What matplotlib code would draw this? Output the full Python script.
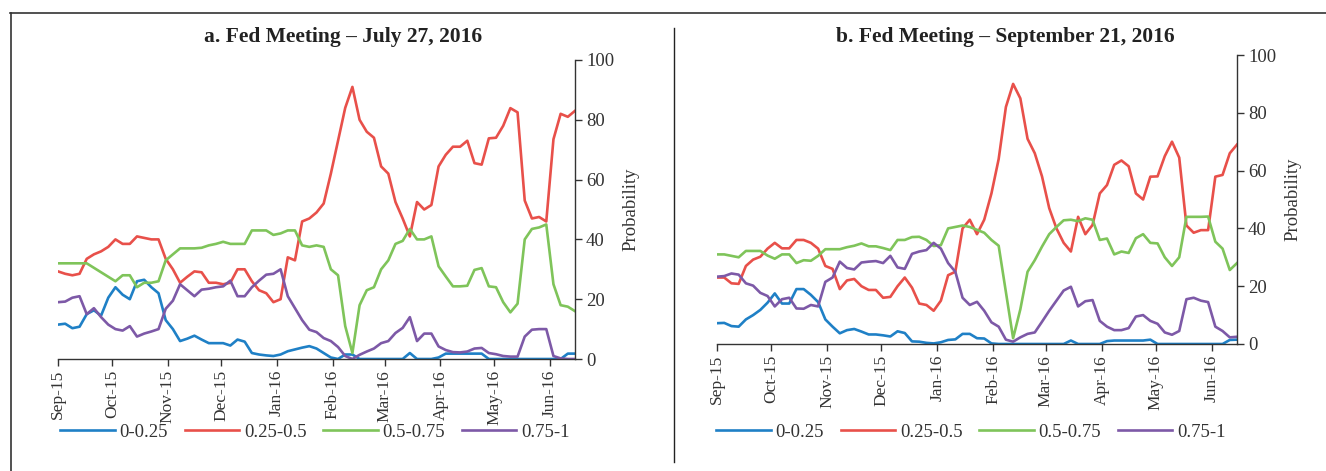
import matplotlib
matplotlib.use("Agg")
import matplotlib.pyplot as plt
from matplotlib.lines import Line2D
import pandas as pd

# ---------------- data ----------------
dates = pd.date_range("2015-09-01", periods=73, freq="4D")
month_ticks = pd.date_range("2015-09-01", "2016-06-01", freq="MS")
month_labels = ["Sep-15", "Oct-15", "Nov-15", "Dec-15", "Jan-16",
                "Feb-16", "Mar-16", "Apr-16", "May-16", "Jun-16"]
series_names = ["0-0.25", "0.25-0.5", "0.5-0.75", "0.75-1"]
y_ticks = [0, 20, 40, 60, 80, 100]

# Panel a: Fed meeting July 27, 2016
a_low = [11.5, 11.8, 10.3, 10.8, 15, 16.3, 14.5, 20.5, 24, 21.5,
         20, 26, 26.5, 24, 22, 13, 10, 6, 6.8, 7.8,
         6.5, 5.3, 5.3, 5.3, 4.5, 6.5, 5.8, 2, 1.5, 1.2,
         1, 1.5, 2.6, 3.2, 3.8, 4.3, 3.5, 2, 0.5, 0,
         1.5, 1.5, 0, 0, 0, 0, 0, 0, 0, 2,
         0, 0, 0, 0.5, 1.8, 1.8, 1.8, 1.8, 1.8, 1.8,
         0, 0, 0, 0, 0, 0, 0, 0, 0, 0,
         0, 1.8, 1.8]
a_mid1 = [29.3, 28.5, 28, 28.5, 33.5, 35, 36, 37.5, 40, 38.5,
          38.5, 41, 40.5, 40, 40, 33.5, 30, 25.5, 27.5, 29.3,
          29, 25.5, 25.5, 25, 25.5, 30, 30, 26, 23, 22,
          19, 20, 34, 33, 46, 47, 49, 52, 62, 73,
          84, 91, 80, 76, 74, 64.4, 62, 52.5, 47, 41,
          52.5, 50, 51.5, 64.4, 68.3, 71, 71, 73, 65.5, 65,
          73.8, 74, 78, 83.9, 82.5, 53, 47, 47.5, 46, 73.5,
          82, 81, 83]
a_mid2 = [32, 32, 32, 32, 32, 30.5, 29, 27.5, 26, 28,
          28, 24, 25.5, 25.5, 26, 33, 35, 37, 37, 37,
          37.2, 38, 38.5, 39.2, 38.5, 38.5, 38.5, 43, 43, 43,
          41.5, 42, 43, 43, 38, 37.5, 38, 37.5, 30, 28,
          11, 2, 18, 23, 24, 30, 33, 38.5, 39.5, 43.5,
          40, 40, 41, 31, 27.6, 24.3, 24.3, 24.5, 29.8, 30.4,
          24.3, 24, 19, 15.6, 18.5, 40, 43.5, 44, 45, 25,
          18, 17.5, 16]
a_high = [19, 19.2, 20.5, 21, 15, 17, 14, 11.5, 10, 9.5,
          11, 7.5, 8.5, 9.2, 10, 16.8, 19.5, 25, 23, 21,
          23.2, 23.5, 24, 24.3, 26.2, 21, 21, 24, 26.2, 28.2,
          28.5, 30, 21, 17, 13, 9.8, 9, 7, 6, 4,
          1, 0, 1.4, 2.5, 3.5, 5.3, 6, 8.7, 10.4, 14,
          6, 8.5, 8.5, 4.2, 3, 2.3, 2.2, 2.5, 3.5, 3.7,
          2, 1.6, 1, 0.8, 0.8, 7.5, 9.8, 10, 10, 1,
          0.2, 0, 0]

# Panel b: Fed meeting September 21, 2016
b_low = [7.2, 7.3, 6.2, 6, 8.5, 10, 11.8, 14.3, 17.5, 14,
         14, 19, 19, 17, 14.5, 8.5, 6, 3.7, 4.8, 5.2,
         4.3, 3.3, 3.3, 3, 2.6, 4.4, 3.8, 0.9, 0.8, 0.4,
         0.2, 0.6, 1.4, 1.6, 3.5, 3.5, 2, 1.9, 0.2, 0,
         0, 0, 0, 0, 0, 0, 0, 0, 0, 1.2,
         0, 0, 0, 0, 1, 1.2, 1.2, 1.2, 1.2, 1.2,
         1.5, 0, 0, 0, 0, 0, 0, 0, 0, 0,
         0, 1.4, 1.5]
b_mid1 = [23, 23, 21, 20.8, 27, 29.2, 30.2, 33, 35, 33.1,
          33.1, 36, 36, 35, 33, 27, 26, 19, 22, 22.5,
          20, 18.7, 18.7, 16, 16.3, 20, 23, 19.5, 14, 13.5,
          11.5, 15, 23.8, 25, 40, 43, 38, 43, 52.1, 64,
          82, 90, 85, 71, 66, 58, 47, 40, 35, 32,
          44, 38, 41.2, 52.1, 55, 62, 63.5, 61.5, 52.1, 50,
          57.9, 58, 65, 70, 64.5, 41, 38.5, 39.4, 39.4, 57.9,
          58.5, 66, 69]
b_mid2 = [31, 31, 30.5, 30, 32.2, 32.2, 32.2, 30.6, 29.5, 31,
          31, 28, 29, 28.8, 30.5, 32.8, 32.8, 32.8, 33.5, 34,
          34.8, 33.8, 33.8, 33.2, 32.5, 36, 36, 37, 37.1, 36,
          33.9, 34.2, 40, 40.5, 41, 40.5, 39.5, 38.5, 36, 34,
          18, 2, 12, 25, 29, 33.7, 38, 40.5, 42.8, 43,
          42.5, 43.5, 43, 36, 36.5, 31, 32, 31.5, 36.6, 38,
          35, 34.8, 30, 27, 30, 44, 44, 44, 44.1, 35.4,
          33, 25.6, 28]
b_high = [23.3, 23.5, 24.4, 24, 21, 20.2, 17.7, 16.6, 13, 15.5,
          16, 12.3, 12.2, 13.5, 13, 21.5, 23, 28.5, 26.3, 25.8,
          28.2, 28.5, 28.7, 28, 30.5, 26.5, 26, 31.2, 32, 32.5,
          35, 33, 28, 25, 16, 13.5, 14.6, 11.5, 7.5, 6,
          1.5, 0.8, 2.3, 3.5, 4, 7.7, 11.5, 15, 18.5, 19.8,
          13, 14.8, 15.2, 8, 6, 4.8, 4.8, 5.5, 9.5, 10,
          8, 7, 4, 3.2, 4.5, 15.5, 16, 15, 14.5, 6,
          4.5, 2.3, 2.5]

titles = ["a. Fed Meeting \u2013 July 27, 2016",
          "b. Fed Meeting \u2013 September 21, 2016"]
ylabel = "Probability"

# ---------------- style ----------------
colors = ["#1f80c6", "#e8504a", "#7fc45a", "#7d59a7"]
plt.rcParams["font.family"] = ["Liberation Serif", "DejaVu Serif"]
axis_col = "#333333"

fig = plt.figure(figsize=(13.26, 4.71), dpi=100)

panels = [
    dict(rect=[58/1326, 1-359/471, 517/1326, 299/471],
         data=[a_low, a_mid1, a_mid2, a_high], title=titles[0],
         tx=343/1326, leg_cx=315/1326),
    dict(rect=[717/1326, 1-344/471, 520/1326, 289/471],
         data=[b_low, b_mid1, b_mid2, b_high], title=titles[1],
         tx=1005/1326, leg_cx=971/1326),
]

x0 = pd.Timestamp("2015-09-01")
x1 = pd.Timestamp("2016-06-15")

for p in panels:
    ax = fig.add_axes(p["rect"])
    handles = []
    for vals, c, name in zip(p["data"], colors, series_names):
        h, = ax.plot(dates, vals, color=c, lw=1.9, label=name,
                     solid_joinstyle="round")
        handles.append(h)
    ax.set_xlim(x0, x1)
    ax.set_ylim(0, 100)
    ax.yaxis.tick_right()
    ax.yaxis.set_label_position("right")
    ax.set_yticks(y_ticks)
    ax.set_yticklabels([str(v) for v in y_ticks], fontsize=13.5, color=axis_col)
    ax.set_xticks(month_ticks)
    ax.set_xticklabels(month_labels, rotation=90, fontsize=12.5, color=axis_col)
    ax.tick_params(axis="both", direction="out", length=5, width=1.0,
                   colors=axis_col, pad=3)
    for s in ["top", "left"]:
        ax.spines[s].set_visible(False)
    for s in ["bottom", "right"]:
        ax.spines[s].set_color(axis_col)
        ax.spines[s].set_linewidth(1.0)
    ax.set_ylabel(ylabel, fontsize=13.5, color=axis_col, labelpad=6)
    fig.text(p["tx"], 1-37/471, p["title"], ha="center", va="center",
             fontsize=15.5, fontweight="bold", color="#222222")
    fig.legend(handles=handles, loc="center", ncol=4,
               bbox_to_anchor=(p["leg_cx"], 1-432/471), frameon=False,
               fontsize=13.5, handlelength=2.9, handletextpad=0.25,
               columnspacing=0.9, labelcolor=axis_col)

# frame and divider
fig.add_artist(Line2D([10/1326, 1], [1-12.5/471, 1-12.5/471],
                      transform=fig.transFigure, color="#333333", lw=1.2))
fig.add_artist(Line2D([11/1326, 11/1326], [0, 1-12.5/471],
                      transform=fig.transFigure, color="#333333", lw=1.2))
fig.add_artist(Line2D([674/1326, 674/1326], [1-462/471, 1-28/471],
                      transform=fig.transFigure, color="#222222", lw=1.0))

fig.savefig("out.png", dpi=100)
